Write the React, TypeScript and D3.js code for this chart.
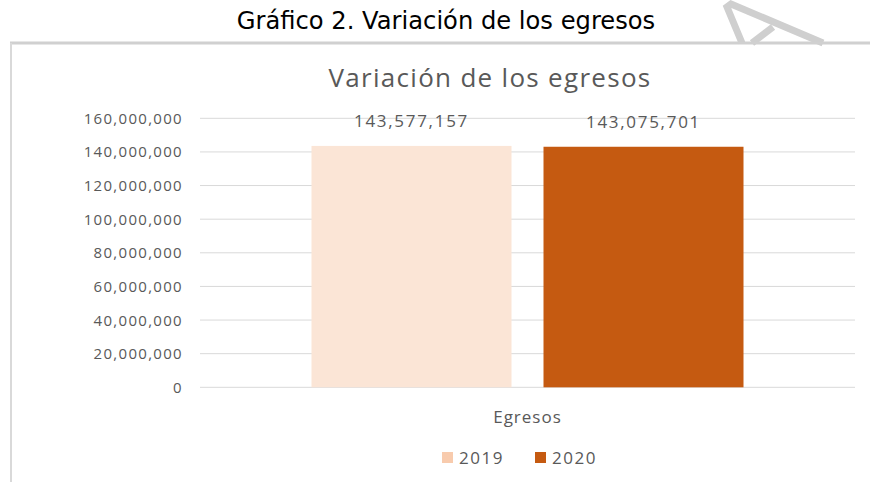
import React from "react";
import * as d3 from "d3";

const categories = ["Egresos"];
const seriesNames = ["2019", "2020"];
const values2019 = [143577157];
const values2020 = [143075701];
const yTicks = [0, 20000000, 40000000, 60000000, 80000000, 100000000, 120000000, 140000000, 160000000];
const barColors = ["#FBE5D6", "#C55A11"];
const legendColors = ["#F8CBAD", "#C55A11"];

const W = 870;
const H = 482;
const plotLeft = 200;
const plotRight = 855;
const plotTop = 118.3;
const plotBottom = 387.3;

export default function App() {
  const y = d3.scaleLinear().domain([0, 160000000]).range([plotBottom, plotTop]);
  const p0 = (655 - 432) / (655 + 432);
  const x0 = d3.scaleBand<string>().domain(categories).range([plotLeft, plotRight]).paddingInner(p0).paddingOuter(p0);
  const x1 = d3.scaleBand<string>().domain(seriesNames).range([0, x0.bandwidth()]).paddingInner(32 / 232).paddingOuter(0);
  const fmt = d3.format(",");
  const series = [values2019, values2020];
  const font = "'Open Sans', sans-serif";
  const textColor = "#595959";

  return (
    <svg width={W} height={H} style={{ position: "absolute", left: 0, top: 0, background: "#fff" }}>
      <rect x={0} y={0} width={W} height={H} fill="#fff" />
      {/* watermark */}
      <g fill="none" stroke="#cfcfcf" strokeWidth={7} strokeLinejoin="miter">
        <polyline points="742,43 727,7 731,4 823,43" />
        <line x1={752} y1={43} x2={773} y2={27} />
      </g>
      {/* outer caption */}
      <text x={446} y={29} textAnchor="middle" fontFamily="'DejaVu Sans', Verdana, sans-serif" fontSize={24.2} fill="#000">
        Gráfico 2. Variación de los egresos
      </text>
      {/* frame */}
      <line x1={10} y1={43} x2={W} y2={43} stroke="#d0d0d0" strokeWidth={3} />
      <line x1={11} y1={43} x2={11} y2={H} stroke="#d9d9d9" strokeWidth={2} />
      {/* chart title */}
      <text x={490} y={87} textAnchor="middle" fontFamily={font} fontSize={26} letterSpacing={1.3} fill={textColor}>
        Variación de los egresos
      </text>
      {/* gridlines */}
      {yTicks.map((t) => (
        <line key={t} x1={plotLeft} x2={plotRight} y1={y(t)} y2={y(t)} stroke="#d9d9d9" strokeWidth={1} />
      ))}
      {/* y tick labels */}
      {yTicks.map((t) => (
        <text key={"l" + t} x={183} y={y(t) + 5.5} textAnchor="end" fontFamily={font} fontSize={15} letterSpacing={1.3} fill={textColor}>
          {fmt(t)}
        </text>
      ))}
      {/* bars */}
      {categories.map((c, ci) =>
        seriesNames.map((s, si) => {
          const v = series[si][ci];
          const bx = (x0(c) as number) + (x1(s) as number);
          return (
            <g key={c + s}>
              <rect x={bx} y={y(v)} width={x1.bandwidth()} height={y(0) - y(v)} fill={barColors[si]} />
              <text x={bx + x1.bandwidth() / 2} y={y(v) - 19} textAnchor="middle" fontFamily={font} fontSize={17} letterSpacing={1.7} fill={textColor}>
                {fmt(v)}
              </text>
            </g>
          );
        })
      )}
      {/* category label */}
      {categories.map((c) => (
        <text key={"c" + c} x={(x0(c) as number) + x0.bandwidth() / 2} y={423} textAnchor="middle" fontFamily={font} fontSize={17} letterSpacing={1} fill={textColor}>
          {c}
        </text>
      ))}
      {/* legend */}
      {seriesNames.map((s, i) => {
        const lx = 442 + i * 93;
        return (
          <g key={"lg" + s}>
            <rect x={lx} y={452} width={11} height={11} fill={legendColors[i]} />
            <text x={lx + 17} y={464} fontFamily={font} fontSize={17} letterSpacing={1.5} fill={textColor}>
              {s}
            </text>
          </g>
        );
      })}
    </svg>
  );
}
